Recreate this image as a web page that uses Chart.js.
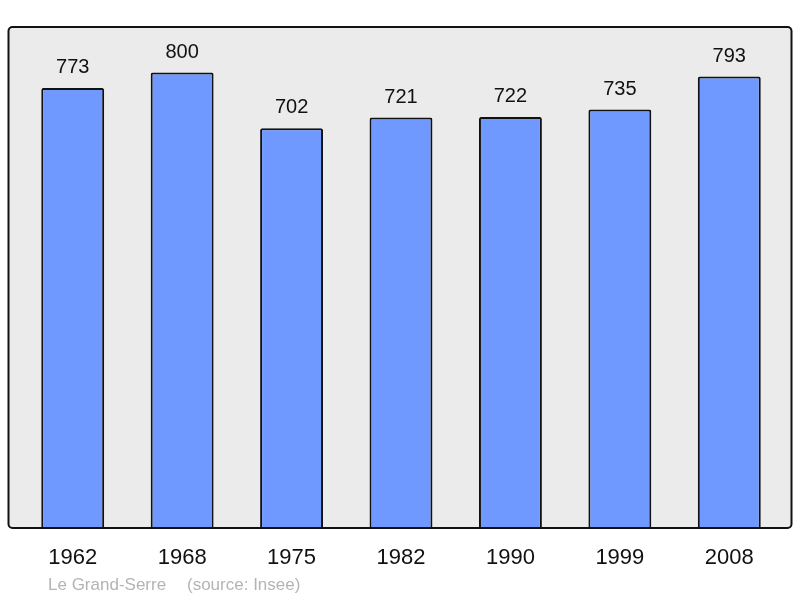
<!DOCTYPE html>
<html lang="fr">
<head>
    <meta charset="UTF-8">
    <title>Le Grand-Serre - population</title>
    <script src="https://cdn.jsdelivr.net/npm/chart.js@4.4.0/dist/chart.umd.min.js"></script>
    <style>
        html, body { margin: 0; padding: 0; background: #fff; }
        #wrap { width: 800px; height: 598px; }
    </style>
</head>
<body>
<div id="wrap"><canvas id="chart" width="800" height="598"></canvas></div>
<script type="text/javascript">
    // data
    const years = ['1962', '1968', '1975', '1982', '1990', '1999', '2008'];
    const population = [773, 800, 702, 721, 722, 735, 793];
    const commune = 'Le Grand-Serre';
    const source = '(source: Insee)';

    const FONT = '"Liberation Sans", Arial, sans-serif';

    // grey frame behind the bars, border on top
    const frame_plugin = {
        id: 'frame',
        beforeDatasetsDraw: (chart) => {
            const {ctx, chartArea: a} = chart;
            ctx.save();
            ctx.fillStyle = '#ebebeb';
            ctx.beginPath();
            ctx.roundRect(a.left - 9.5, a.top, a.right - a.left + 17, a.bottom - a.top, 4);
            ctx.fill();
            ctx.restore();
        },
        afterDatasetsDraw: (chart) => {
            const {ctx, chartArea: a} = chart;
            ctx.save();
            ctx.strokeStyle = '#111';
            ctx.lineWidth = 2;
            ctx.beginPath();
            ctx.roundRect(a.left - 9.5, a.top, a.right - a.left + 17, a.bottom - a.top, 4);
            ctx.stroke();

            // values above bars
            ctx.fillStyle = '#111';
            ctx.font = '20px ' + FONT;
            ctx.textAlign = 'center';
            ctx.textBaseline = 'alphabetic';
            chart.getDatasetMeta(0).data.forEach((bar, i) => {
                ctx.fillText(String(population[i]), bar.x, bar.y - 15);
            });

            // footer
            ctx.fillStyle = '#b4b4b4';
            ctx.font = '17px ' + FONT;
            ctx.textAlign = 'left';
            ctx.fillText(commune, 48, 590);
            ctx.fillText(source, 187, 590);
            ctx.restore();
        }
    };

    const config = {
        type: 'bar',
        data: {
            labels: years,
            datasets: [{
                data: population,
                backgroundColor: '#7099ff',
                borderColor: '#111',
                borderWidth: 2,
                borderRadius: 2,
                borderSkipped: 'bottom',
                barPercentage: 0.575,
                categoryPercentage: 1.0
            }]
        },
        options: {
            responsive: false,
            animation: false,
            layout: {
                padding: { left: 18, right: 16, top: 27, bottom: 0 }
            },
            scales: {
                x: {
                    grid: { display: false, drawTicks: false },
                    border: { display: false },
                    ticks: {
                        color: '#111',
                        padding: 17,
                        font: { size: 22, family: FONT }
                    },
                    afterFit: (s) => { s.height = 70; }
                },
                y: {
                    display: false,
                    min: 0,
                    max: 880
                }
            },
            plugins: {
                legend: { display: false },
                tooltip: { enabled: false }
            }
        },
        plugins: [frame_plugin]
    };

    const canvas = document.getElementById('chart');
    let chart = new Chart(canvas, config);
</script>
</body>
</html>
